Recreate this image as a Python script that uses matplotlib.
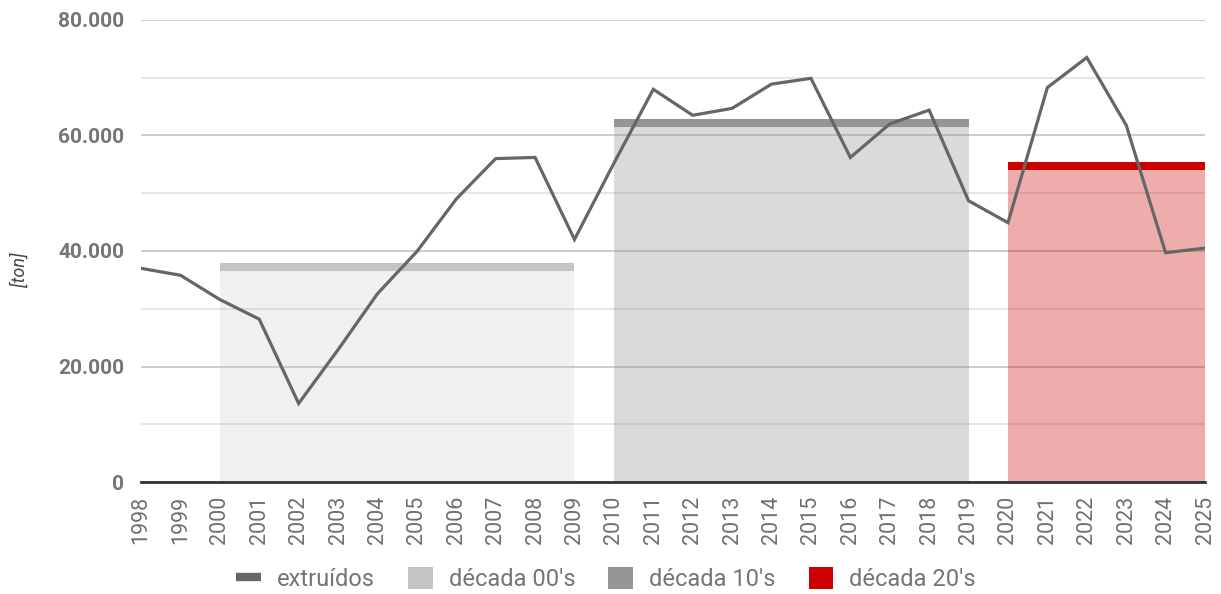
import matplotlib
matplotlib.use("Agg")
import matplotlib.pyplot as plt
from matplotlib.lines import Line2D
from matplotlib.patches import Patch
from matplotlib.ticker import MultipleLocator, FuncFormatter

plt.rcParams['font.family'] = ['Roboto', 'DejaVu Sans']

# data
years = list(range(1998, 2026))
extruidos = [37000, 35800, 31600, 28200, 13600, 22900, 32600, 39900, 49000, 56000,
             56200, 42000, 55200, 68000, 63500, 64700, 68900, 69900, 56200, 62000,
             64400, 48700, 44900, 68300, 73500, 61800, 39700, 40500]

decade_labels = ["década 00's", "década 10's", "década 20's"]
decade_start = [2000, 2010, 2020]
decade_end = [2009, 2019, 2025]
decade_avg = [37200, 62150, 54800]
decade_colors = ['#c4c4c4', '#959595', '#cc0000']
fill_alpha = [0.25, 0.35, 0.32]

fig = plt.figure(figsize=(12.21, 5.94), dpi=100)
ax = fig.add_axes([141/1221, 1-482/594, (1205-141)/1221, (482-20)/594])

# decade blocks
for s, e, v, c, a in zip(decade_start, decade_end, decade_avg, decade_colors, fill_alpha):
    ax.fill_between([s, e], 0, v, color=c, alpha=a, lw=0, zorder=2)
    ax.plot([s, e], [v, v], color=c, lw=5.8, solid_capstyle='butt', zorder=3)

ax.plot(years, extruidos, color='#666666', lw=2.3, zorder=4, solid_joinstyle='miter')

ax.set_xlim(1998, 2025)
ax.set_ylim(0, 80000)
ax.set_xticks(years)
ax.set_xticklabels([str(y) for y in years], rotation=90, fontsize=15.5, color='#6f6f6f')
ax.yaxis.set_major_locator(MultipleLocator(20000))
ax.yaxis.set_minor_locator(MultipleLocator(10000))
ax.yaxis.set_major_formatter(FuncFormatter(lambda v, p: f"{int(v):,}".replace(',', '.')))
for lab in ax.get_yticklabels():
    lab.set_fontweight('bold')
ax.tick_params(axis='y', which='both', length=0, pad=12, labelsize=15, labelcolor='#757575')
ax.tick_params(axis='x', length=0, pad=10)

ax.grid(which='major', axis='y', color='#c8c8c8', lw=1.3, zorder=1)
ax.grid(which='minor', axis='y', color='#e4e4e4', lw=1.3, zorder=1)
ax.set_axisbelow(True)
for sp in ['top', 'right', 'left']:
    ax.spines[sp].set_visible(False)
ax.spines['bottom'].set_color('#333333')
ax.spines['bottom'].set_linewidth(2)
ax.spines['bottom'].set_zorder(5)

fig.text(20/1221, 1-270/594, '[ton]', rotation=90, style='italic', fontsize=13,
         color='#444444', ha='center', va='center')

handles = [Line2D([0], [0], color='#666666', lw=6, solid_capstyle='butt')]
handles += [Patch(facecolor=c, edgecolor='none') for c in decade_colors]
labels = ['extruídos'] + decade_labels
fig.legend(handles, labels, loc='center', bbox_to_anchor=(606/1221, 1-579/594), ncol=4,
           frameon=False, fontsize=17, labelcolor='#757575', handlelength=1.05,
           handleheight=1.05, handletextpad=0.68, columnspacing=1.4)

fig.savefig('out.png', dpi=100)
